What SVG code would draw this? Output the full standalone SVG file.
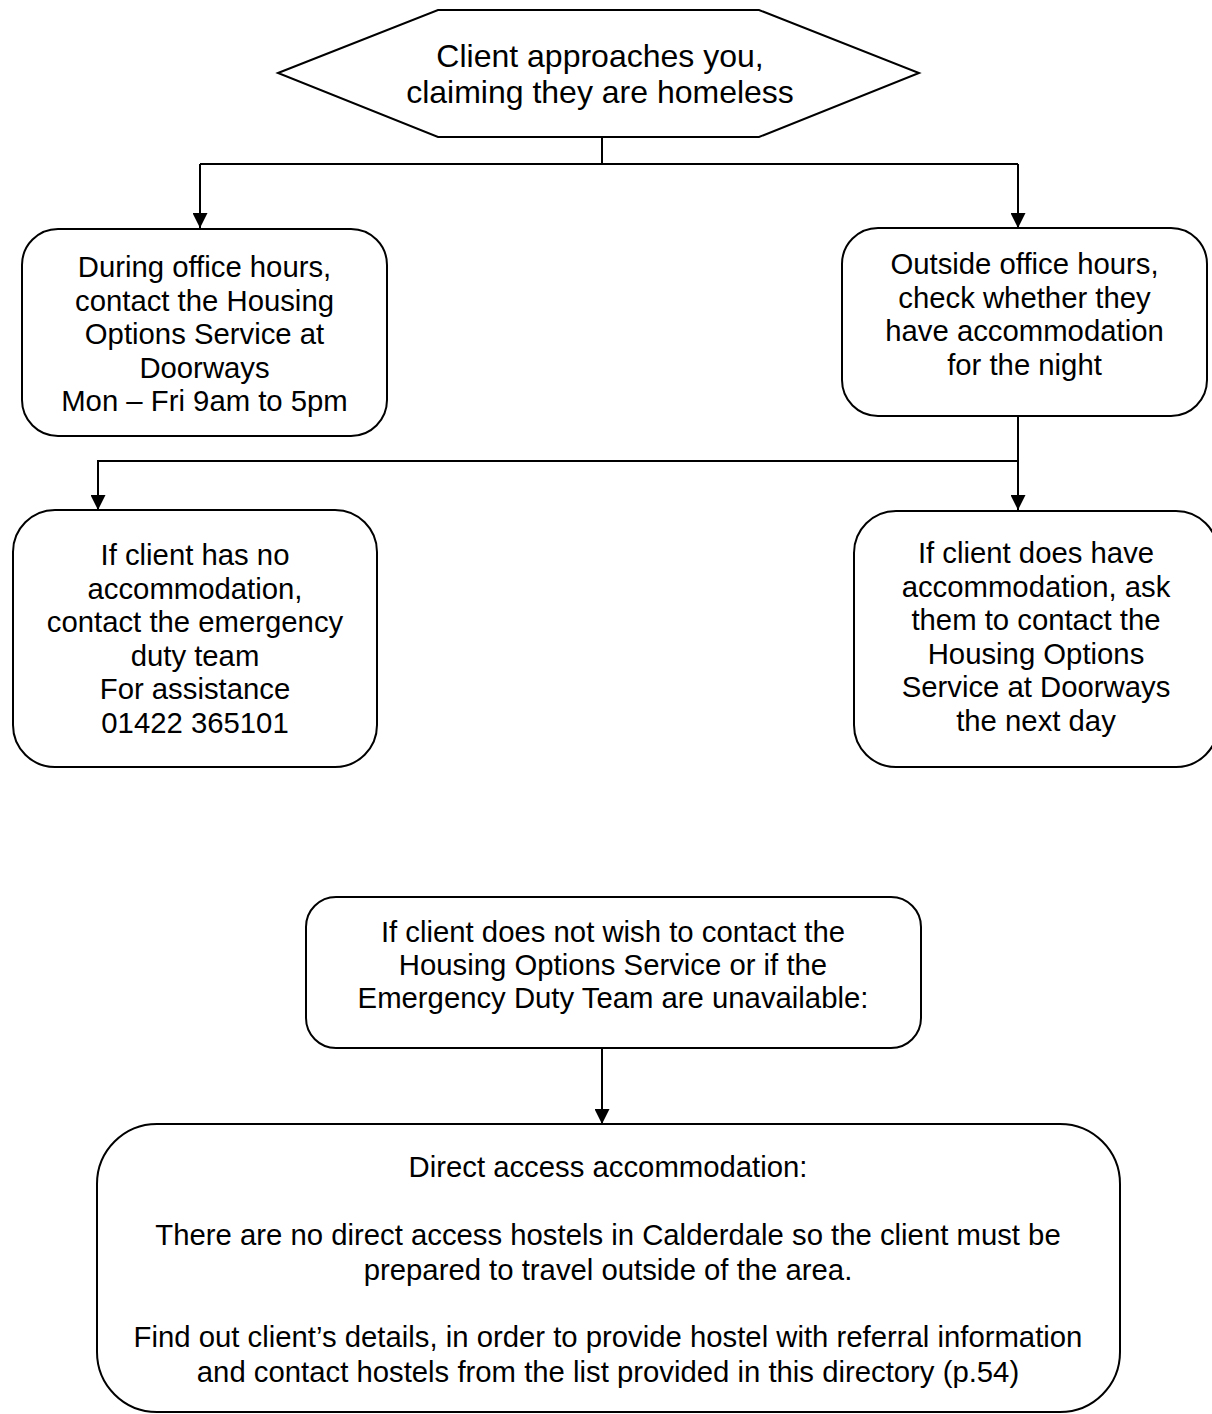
<svg xmlns="http://www.w3.org/2000/svg" width="1212" height="1414" viewBox="0 0 1212 1414">
<style>
.n{fill:#fff;stroke:#000;stroke-width:2}
.t{font-family:"Liberation Sans",Arial,sans-serif;font-size:29.3px;fill:#000;text-anchor:middle}
.big{font-size:32px}
.c{fill:none;stroke:#000;stroke-width:2}
</style>
<defs>
<marker id="ah" viewBox="0 0 10 10" refX="10" refY="5" markerWidth="7.5" markerHeight="7.5" markerUnits="strokeWidth" orient="auto">
<path d="M0,0 L10,5 L0,10 z" fill="#000"/>
</marker>
</defs>
<rect width="1212" height="1414" fill="#fff"/>
<g id="connectors">
<path class="c" d="M602,138 V164"/>
<path class="c" d="M200,164 H1018"/>
<path class="c" d="M200,164 V228" marker-end="url(#ah)"/>
<path class="c" d="M1018,164 V228" marker-end="url(#ah)"/>
<path class="c" d="M1018,416 V510" marker-end="url(#ah)"/>
<path class="c" d="M1018,461 H98 V510" marker-end="url(#ah)"/>
<path class="c" d="M602,1048 V1124" marker-end="url(#ah)"/>
</g>
<g id="start">
<polygon class="n" points="278,73 438,10 759,10 919,73 759,137 438,137"/>
<text class="t big" x="600" y="67">Client approaches you,</text>
<text class="t big" x="600" y="103">claiming they are homeless</text>
</g>
<g id="office">
<rect class="n" x="22" y="229" width="365" height="207" rx="36"/>
<text class="t" x="204.5" y="277">During office hours,</text>
<text class="t" x="204.5" y="310.5">contact the Housing</text>
<text class="t" x="204.5" y="344">Options Service at</text>
<text class="t" x="204.5" y="377.5">Doorways</text>
<text class="t" x="204.5" y="411">Mon – Fri 9am to 5pm</text>
</g>
<g id="outside">
<rect class="n" x="842" y="228" width="365" height="188" rx="36"/>
<text class="t" x="1024.5" y="274">Outside office hours,</text>
<text class="t" x="1024.5" y="307.5">check whether they</text>
<text class="t" x="1024.5" y="341">have accommodation</text>
<text class="t" x="1024.5" y="374.5">for the night</text>
</g>
<g id="noaccom">
<rect class="n" x="13" y="510" width="364" height="257" rx="42"/>
<text class="t" x="195" y="565">If client has no</text>
<text class="t" x="195" y="598.5">accommodation,</text>
<text class="t" x="195" y="632">contact the emergency</text>
<text class="t" x="195" y="665.5">duty team</text>
<text class="t" x="195" y="699">For assistance</text>
<text class="t" x="195" y="732.5">01422 365101</text>
</g>
<g id="hasaccom">
<rect class="n" x="854" y="511" width="364" height="256" rx="42"/>
<text class="t" x="1036" y="563">If client does have</text>
<text class="t" x="1036" y="596.5">accommodation, ask</text>
<text class="t" x="1036" y="630">them to contact the</text>
<text class="t" x="1036" y="663.5">Housing Options</text>
<text class="t" x="1036" y="697">Service at Doorways</text>
<text class="t" x="1036" y="730.5">the next day</text>
</g>
<g id="nowish">
<rect class="n" x="306" y="897" width="615" height="151" rx="30"/>
<text class="t" x="613" y="942">If client does not wish to contact the</text>
<text class="t" x="613" y="975">Housing Options Service or if the</text>
<text class="t" x="613" y="1008">Emergency Duty Team are unavailable:</text>
</g>
<g id="direct">
<rect class="n" x="97" y="1124" width="1023" height="288" rx="60"/>
<text class="t" x="608" y="1177">Direct access accommodation:</text>
<text class="t" x="608" y="1245">There are no direct access hostels in Calderdale so the client must be</text>
<text class="t" x="608" y="1280">prepared to travel outside of the area.</text>
<text class="t" x="608" y="1347">Find out client’s details, in order to provide hostel with referral information</text>
<text class="t" x="608" y="1382">and contact hostels from the list provided in this directory (p.54)</text>
</g>
</svg>
